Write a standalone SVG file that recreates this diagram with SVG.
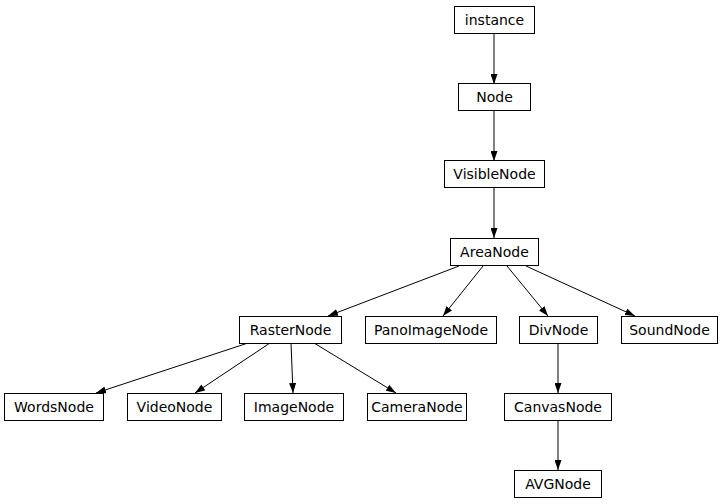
<svg xmlns="http://www.w3.org/2000/svg" width="723" height="504" viewBox="0 0 723 504">
<style>
.n rect{fill:#fff;stroke:#000;stroke-width:1}
.n text{font-family:"DejaVu Sans",sans-serif;font-size:14px;text-anchor:middle;fill:#000}
#edges line{stroke:#000;stroke-width:1;marker-end:url(#ah)}
</style>
<defs>
<marker id="ah" viewBox="0 0 10 7" refX="10" refY="3.5" markerWidth="10" markerHeight="7" markerUnits="userSpaceOnUse" orient="auto">
<path d="M0,0 L10,3.5 L0,7 Z" fill="#000"/>
</marker>
</defs>
<rect width="723" height="504" fill="#fff"/>
<g id="edges">
<line x1="494" y1="34" x2="494" y2="84"/>
<line x1="494" y1="111" x2="494" y2="161"/>
<line x1="494" y1="188" x2="494" y2="238"/>
<line x1="459" y1="266" x2="328" y2="316"/>
<line x1="483" y1="266" x2="443" y2="316"/>
<line x1="507" y1="266" x2="548" y2="316"/>
<line x1="526" y1="266" x2="635" y2="316"/>
<line x1="248" y1="343" x2="96" y2="393"/>
<line x1="270" y1="343" x2="195" y2="393"/>
<line x1="291" y1="343" x2="293" y2="393"/>
<line x1="314" y1="343" x2="396" y2="393"/>
<line x1="558" y1="343" x2="558" y2="393"/>
<line x1="558" y1="420" x2="558" y2="470"/>
</g>
<g id="instance" class="n"><rect x="454.5" y="6.5" width="80" height="27"/><text x="494.5" y="25">instance</text></g>
<g id="Node" class="n"><rect x="458.5" y="83.5" width="72" height="27"/><text x="494.5" y="102">Node</text></g>
<g id="VisibleNode" class="n"><rect x="444.5" y="160.5" width="100" height="27"/><text x="494.5" y="179">VisibleNode</text></g>
<g id="AreaNode" class="n"><rect x="450.5" y="238.5" width="88" height="27"/><text x="494.5" y="257">AreaNode</text></g>
<g id="RasterNode" class="n"><rect x="239.5" y="316.5" width="102" height="27"/><text x="290.5" y="335">RasterNode</text></g>
<g id="PanoImageNode" class="n"><rect x="365.5" y="316.5" width="131" height="27"/><text x="431" y="335">PanoImageNode</text></g>
<g id="DivNode" class="n"><rect x="519.5" y="316.5" width="78" height="27"/><text x="558.5" y="335">DivNode</text></g>
<g id="SoundNode" class="n"><rect x="621.5" y="316.5" width="96" height="27"/><text x="669.5" y="335">SoundNode</text></g>
<g id="WordsNode" class="n"><rect x="4.5" y="393.5" width="99" height="27"/><text x="54" y="412">WordsNode</text></g>
<g id="VideoNode" class="n"><rect x="127.5" y="393.5" width="94" height="27"/><text x="174.5" y="412">VideoNode</text></g>
<g id="ImageNode" class="n"><rect x="244.5" y="393.5" width="99" height="27"/><text x="294" y="412">ImageNode</text></g>
<g id="CameraNode" class="n"><rect x="367.5" y="393.5" width="99" height="27"/><text x="417" y="412">CameraNode</text></g>
<g id="CanvasNode" class="n"><rect x="504.5" y="393.5" width="107" height="27"/><text x="558" y="412">CanvasNode</text></g>
<g id="AVGNode" class="n"><rect x="514.5" y="470.5" width="87" height="27"/><text x="558" y="489">AVGNode</text></g>
</svg>
